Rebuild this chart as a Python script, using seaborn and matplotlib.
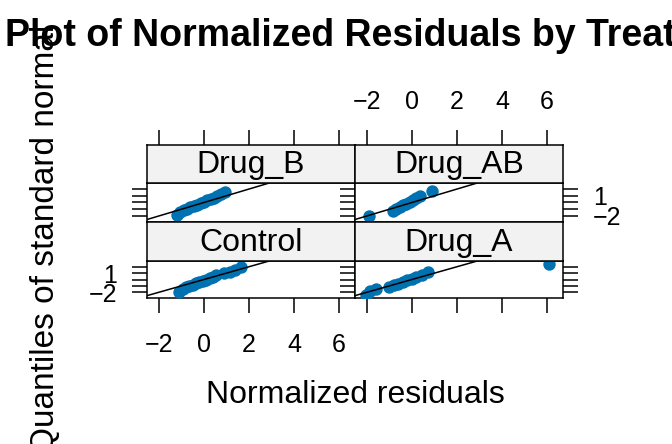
import matplotlib
matplotlib.use("Agg")
import matplotlib.pyplot as plt
import seaborn as sns
import pandas as pd

sns.set_style("white")
plt.rcParams['font.family'] = ['Liberation Sans', 'DejaVu Sans']
plt.rcParams['text.color'] = 'black'
plt.rcParams['xtick.color'] = 'black'
plt.rcParams['ytick.color'] = 'black'
plt.rcParams['axes.labelcolor'] = 'black'

# ---- data ----
panels = ["Drug_B", "Drug_AB", "Control", "Drug_A"]

drugb_x = [-1.2, -1.05, -0.9, -0.75, -0.6, -0.45, -0.3, -0.15, 0.0, 0.15, 0.3, 0.45, 0.6, 0.75, 0.93]
drugb_y = [-1.8, -1.4, -1.1, -0.9, -0.7, -0.5, -0.3, -0.1, 0.1, 0.3, 0.5, 0.7, 0.9, 1.2, 1.6]

drugab_x = [-1.93, -0.85, -0.7, -0.55, -0.4, -0.25, -0.1, 0.05, 0.2, 0.35, 0.9]
drugab_y = [-2.0, -1.3, -0.95, -0.65, -0.4, -0.15, 0.1, 0.35, 0.65, 1.0, 1.7]

control_x = [-1.1, -0.95, -0.8, -0.65, -0.5, -0.35, -0.2, -0.05, 0.1, 0.25, 0.4, 0.55, 0.9, 1.15, 1.4, 1.65]
control_y = [-1.9, -1.5, -1.2, -1.0, -0.8, -0.6, -0.4, -0.2, 0.0, 0.2, 0.45, 0.7, 1.0, 1.25, 1.55, 1.9]

druga_x = [-2.05, -1.85, -1.6, -1.0, -0.8, -0.6, -0.4, -0.2, 0.0, 0.2, 0.45, 0.7, 6.1]
druga_y = [-2.4, -1.8, -1.45, -1.2, -0.9, -0.65, -0.4, -0.15, 0.1, 0.4, 0.75, 1.2, 2.4]

x_ticks = [-2, 0, 2, 4, 6]
y_ticks = [-2, -1, 0, 1, 2]
y_ticklabels = ["−2", "", "", "1", ""]

data = {
    "Drug_B": (drugb_x, drugb_y),
    "Drug_AB": (drugab_x, drugab_y),
    "Control": (control_x, control_y),
    "Drug_A": (druga_x, druga_y),
}

W, H = 672, 444
fig = plt.figure(figsize=(W / 100, H / 100), dpi=100)

def add_ax(x0, x1, y0, y1):
    return fig.add_axes([x0 / W, 1 - y1 / H, (x1 - x0) / W, (y1 - y0) / H])

cols = [(147, 355), (355, 563)]
rows = [((145, 183), (183, 222)), ((222, 261), (261, 298))]
xlim = (-2.53, 6.71)
ylim = (-2.9, 2.9)
blue = "#0072B2"
tick_len = 10.5
tick_w = 1.1
fs_tick = 18

layout = {"Drug_B": (0, 0), "Drug_AB": (0, 1), "Control": (1, 0), "Drug_A": (1, 1)}

for name in panels:
    r, c = layout[name]
    (sy0, sy1), (py0, py1) = rows[r]
    x0, x1 = cols[c]
    ax = add_ax(x0, x1, py0, py1)
    sax = add_ax(x0, x1, sy0, sy1)

    xs, ys = data[name]
    df = pd.DataFrame({"x": xs, "y": ys})
    sns.scatterplot(data=df, x="x", y="y", ax=ax, color=blue, s=80,
                    edgecolor=blue, linewidth=0, legend=False, zorder=3)
    ax.axline((0, 0), slope=1, color="black", lw=1.1, zorder=4)
    ax.set_xlim(xlim)
    ax.set_ylim(ylim)
    ax.set_xlabel("")
    ax.set_ylabel("")
    for sp in ax.spines.values():
        sp.set_linewidth(1.1)
        sp.set_color("black")

    ax.set_yticks(y_ticks)
    ax.set_yticklabels(y_ticklabels)
    ax.tick_params(axis="y", which="both", left=True, right=True,
                   direction="out", length=tick_len, width=tick_w,
                   labelsize=fs_tick, pad=11,
                   labelleft=(r == 1 and c == 0),
                   labelright=(r == 0 and c == 1))
    ax.set_xticks(x_ticks)
    ax.set_xticklabels([str(v).replace("-", "−") for v in x_ticks])
    ax.tick_params(axis="x", which="both", bottom=(r == 1), top=False,
                   direction="out", length=tick_len, width=tick_w,
                   labelsize=fs_tick, pad=15,
                   labelbottom=(r == 1 and c == 0), labeltop=False)

    # strip
    sax.set_facecolor("#f2f2f2")
    sax.set_xlim(xlim)
    sax.set_ylim(0, 1)
    sax.set_yticks([])
    for sp in sax.spines.values():
        sp.set_linewidth(1.1)
        sp.set_color("black")
    sax.text(0.5, 0.47, name, transform=sax.transAxes, ha="center", va="center",
             fontsize=23, color="black")
    if r == 0:
        sax.set_xticks(x_ticks)
        sax.set_xticklabels([str(v).replace("-", "−") for v in x_ticks])
        sax.tick_params(axis="x", which="both", top=True, bottom=False,
                        direction="out", length=tick_len, width=tick_w,
                        labelsize=fs_tick, pad=12,
                        labeltop=(c == 1), labelbottom=False)
    else:
        sax.set_xticks([])

fig.text(5 / W, 1 - 36 / H, "Plot of Normalized Residuals by Treatment",
         ha="left", va="center", fontsize=27, fontweight="bold", color="black")
fig.text(355 / W, 1 - 395 / H, "Normalized residuals", ha="center", va="center",
         fontsize=23, color="black")
fig.text(46 / W, 1 - 25 / H, "Quantiles of standard normal", ha="center", va="top",
         rotation=90, fontsize=24, color="black")

fig.savefig("out.png", dpi=100)
